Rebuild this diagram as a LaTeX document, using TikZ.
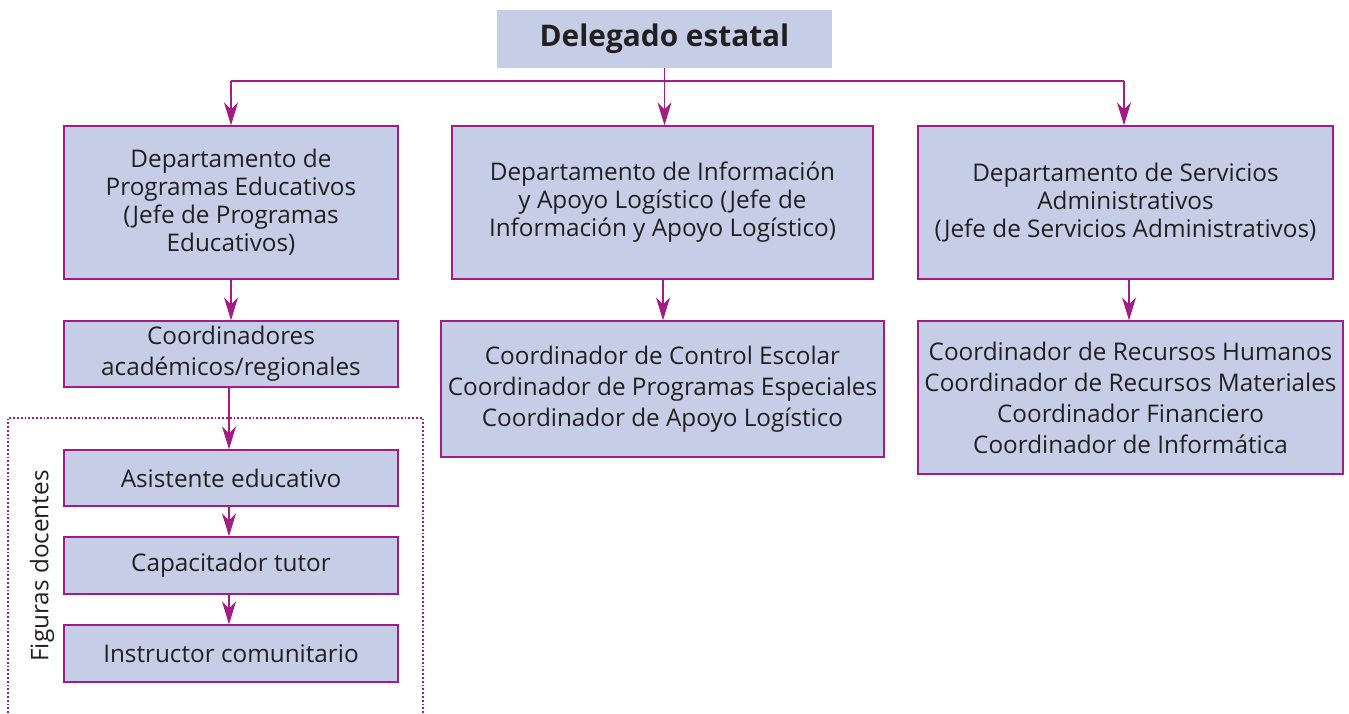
\documentclass[tikz,border=0pt]{standalone}
\usepackage{fontspec}
\setmainfont{Open Sans}
\usetikzlibrary{arrows.meta}
\definecolor{boxfill}{RGB}{197,206,230}
\definecolor{mag}{RGB}{162,28,130}
\definecolor{txt}{RGB}{35,31,32}
\tikzset{
  box/.style={draw=mag, line width=1.3pt, fill=boxfill, text=txt, align=center, inner sep=0pt, font=\fontsize{24.3}{28}\selectfont},
  cbox/.style={box, font=\fontsize{24.3}{31}\selectfont},
  arr/.style={draw=mag, line width=1.7pt, -{Stealth[length=23pt, width=14pt, inset=7pt]}},
  ln/.style={draw=mag, line width=1.7pt},
}
\newcommand{\bx}[7]{% name, style, x1, y1, x2, y2, text
  \node[#2, minimum width=#5-#3, minimum height=#6-#4] (#1) at ({(#3+#5)/2},{(#4+#6)/2}) {#7};}
\begin{document}
\begin{tikzpicture}[x=1pt, y=-1pt]
\useasboundingbox (0,0) rectangle (1349,713);
% dotted group
\draw[mag, line width=1.8pt, dotted] (8,713) -- (8,418) -- (423,418) -- (423,713);
\node[rotate=90, text=txt, font=\fontsize{24.3}{25}\selectfont] (fig) at (42,566) {Figuras docentes};
% boxes
\node[fill=boxfill, text=txt, minimum width=335pt, minimum height=58pt, inner sep=0pt, font=\fontsize{29.8}{30}\selectfont\bfseries] (del) at (664.5,39) {Delegado estatal};
\bx{d1}{box}{64}{126}{398}{279}{Departamento de\\Programas Educativos\\(Jefe de Programas\\Educativos)}
\bx{d2}{box}{452}{126}{873}{279}{Departamento de Información\\y Apoyo Logístico (Jefe de\\Información y Apoyo Logístico)}
\bx{d3}{box}{918}{126}{1333}{279}{Departamento de Servicios\\Administrativos\\(Jefe de Servicios Administrativos)}
\bx{c1}{cbox}{64}{321}{398}{387}{Coordinadores\\académicos/regionales}
\bx{c2}{cbox}{441}{321}{884}{457}{Coordinador de Control Escolar\\Coordinador de Programas Especiales\\Coordinador de Apoyo Logístico}
\bx{c3}{cbox}{918}{321}{1343}{474}{Coordinador de Recursos Humanos\\Coordinador de Recursos Materiales\\Coordinador Financiero\\Coordinador de Informática}
\bx{a1}{box}{64}{450}{398}{506}{Asistente educativo}
\bx{a2}{box}{64}{537}{398}{594}{Capacitador tutor}
\bx{a3}{box}{64}{625}{398}{682}{Instructor comunitario}
% connectors
\coordinate (hl) at (231,81);
\coordinate (hr) at (1124,81);
\draw[ln] (hl) -- (hr);
\draw[arr] (del.south) -- (del.south |- d2.north);
\draw[arr] (hl) -- (hl |- d1.north);
\draw[arr] (hr) -- (hr |- d3.north);
\draw[arr] (231,279) coordinate (s1) -- (s1 |- c1.north);
\draw[arr] (663,279) coordinate (s2) -- (s2 |- c2.north);
\draw[arr] (1129,279) coordinate (s3) -- (s3 |- c3.north);
\draw[arr] (229,387) coordinate (s4) -- (s4 |- a1.north);
\draw[arr] (229,506) coordinate (s5) -- (s5 |- a2.north);
\draw[arr] (229,594) coordinate (s6) -- (s6 |- a3.north);
\end{tikzpicture}
\end{document}
